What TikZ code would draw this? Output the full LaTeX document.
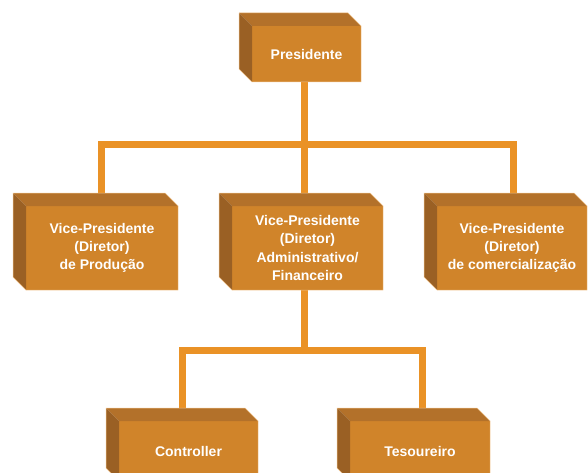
\documentclass[tikz,border=0pt]{standalone}
\usepackage{fontspec}
\setmainfont{Liberation Sans}
\usetikzlibrary{backgrounds}
\definecolor{frontc}{HTML}{D0842A}
\definecolor{topc}{HTML}{B3712A}
\definecolor{sidec}{HTML}{9A6024}
\definecolor{edgec}{HTML}{EDBE86}
\definecolor{linkc}{HTML}{EA9226}
\tikzset{
  cube/.style={fill=frontc, inner sep=0pt, outer sep=0pt, text=white,
    align=center, font=\fontsize{14}{18.3}\selectfont\bfseries},
  link/.style={draw=linkc, line width=7pt, line cap=butt, line join=miter},
  faceedge/.style={draw=edgec, line width=0.5pt, line join=round}
}
\begin{document}
\begin{tikzpicture}[x=1pt, y=-1pt]
  \useasboundingbox (0,0) rectangle (588,473);
  \begin{scope}
    \clip (0,0) rectangle (588,473);
    % front faces of the boxes
    \node[cube, minimum width=109pt, minimum height=56pt] (P) at (306.5,54) {Presidente};
    \node[cube, minimum width=152pt, minimum height=84pt] (L) at (102,248)
      {Vice-Presidente\\(Diretor)\\de Produção};
    \node[cube, minimum width=151pt, minimum height=84pt] (M) at (307.5,248)
      {Vice-Presidente\\(Diretor)\\Administrativo/\\Financeiro};
    \node[cube, minimum width=150pt, minimum height=84pt] (R) at (512,248)
      {Vice-Presidente\\(Diretor)\\de comercialização};
    \node[cube, minimum width=139pt, minimum height=60pt] (C) at (188.5,451) {Controller};
    \node[cube, minimum width=140pt, minimum height=60pt] (T) at (420,451) {Tesoureiro};
    % top and left faces of each box
    \foreach \n in {P,L,M,R,C,T} {
      \fill[topc] (\n.north west) -- ++(-13,-13) -- ([shift={(-13,-13)}]\n.north east)
        -- (\n.north east) -- cycle;
      \fill[sidec] (\n.north west) -- ++(-13,-13) -- ([shift={(-13,-13)}]\n.south west)
        -- (\n.south west) -- cycle;
      \draw[faceedge] (\n.south west) -- ([shift={(-13,-13)}]\n.south west)
        -- ([shift={(-13,-13)}]\n.north west) -- ([shift={(-13,-13)}]\n.north east)
        -- (\n.north east) -- (\n.south east) -- cycle;
    }
  \end{scope}
  % connectors behind the boxes
  \begin{pgfonlayer}{background}
    \draw[link] ([xshift=-2.5pt]P.south) -- ([xshift=-3.5pt]M.north);
    \draw[link] ([xshift=-0.5pt]L.north) -- ++(0,-61) -| ([xshift=1.5pt]R.north);
    \coordinate (bar) at ([xshift=-6.5pt,yshift=70.5pt]C.north);
    \draw[link] ([xshift=-3.5pt]M.south) -- ([xshift=-3.5pt]M.south |- bar);
    \draw[link] ([xshift=-6.5pt]C.north) -- (bar) -| ([xshift=2.5pt]T.north);
  \end{pgfonlayer}
\end{tikzpicture}
\end{document}
